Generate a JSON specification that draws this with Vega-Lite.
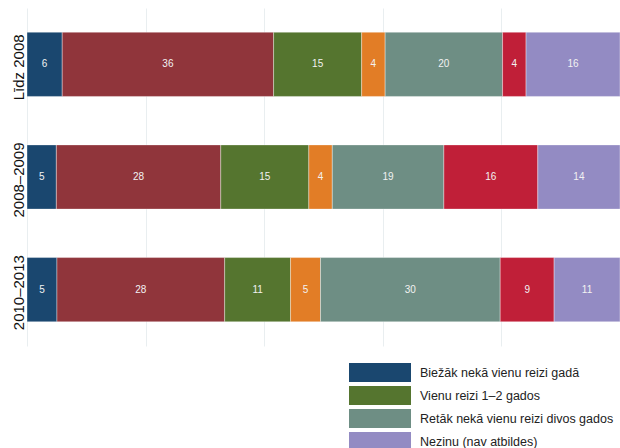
{
  "$schema": "https://vega.github.io/schema/vega-lite/v6.json",
  "width": 593,
  "height": 338,
  "autosize": {"type": "none"},
  "padding": {"left": 27, "top": 8, "right": 0, "bottom": 102},
  "background": "white",
  "config": {"view": {"stroke": null}, "font": "Liberation Sans"},
  "data": {
    "values": [
      {"period": "Līdz 2008", "cat": "Biežāk nekā vienu reizi gadā", "order": 1, "value": 6},
      {"period": "Līdz 2008", "cat": "Vienu reizi gadā", "order": 2, "value": 36},
      {"period": "Līdz 2008", "cat": "Vienu reizi 1–2 gados", "order": 3, "value": 15},
      {"period": "Līdz 2008", "cat": "Vienu reizi divos gados", "order": 4, "value": 4},
      {"period": "Līdz 2008", "cat": "Retāk nekā vienu reizi divos gados", "order": 5, "value": 20},
      {"period": "Līdz 2008", "cat": "Nekad", "order": 6, "value": 4},
      {"period": "Līdz 2008", "cat": "Nezinu (nav atbildes)", "order": 7, "value": 16},
      {"period": "2008–2009", "cat": "Biežāk nekā vienu reizi gadā", "order": 1, "value": 5},
      {"period": "2008–2009", "cat": "Vienu reizi gadā", "order": 2, "value": 28},
      {"period": "2008–2009", "cat": "Vienu reizi 1–2 gados", "order": 3, "value": 15},
      {"period": "2008–2009", "cat": "Vienu reizi divos gados", "order": 4, "value": 4},
      {"period": "2008–2009", "cat": "Retāk nekā vienu reizi divos gados", "order": 5, "value": 19},
      {"period": "2008–2009", "cat": "Nekad", "order": 6, "value": 16},
      {"period": "2008–2009", "cat": "Nezinu (nav atbildes)", "order": 7, "value": 14},
      {"period": "2010–2013", "cat": "Biežāk nekā vienu reizi gadā", "order": 1, "value": 5},
      {"period": "2010–2013", "cat": "Vienu reizi gadā", "order": 2, "value": 28},
      {"period": "2010–2013", "cat": "Vienu reizi 1–2 gados", "order": 3, "value": 11},
      {"period": "2010–2013", "cat": "Vienu reizi divos gados", "order": 4, "value": 5},
      {"period": "2010–2013", "cat": "Retāk nekā vienu reizi divos gados", "order": 5, "value": 30},
      {"period": "2010–2013", "cat": "Nekad", "order": 6, "value": 9},
      {"period": "2010–2013", "cat": "Nezinu (nav atbildes)", "order": 7, "value": 11}
    ]
  },
  "encoding": {
    "y": {
      "field": "period",
      "type": "nominal",
      "sort": ["Līdz 2008", "2008–2009", "2010–2013"],
      "scale": {"paddingInner": 0.43, "paddingOuter": 0.215},
      "axis": {
        "title": null,
        "domain": false,
        "ticks": false,
        "grid": false,
        "labelAngle": 270,
        "labelAlign": "center",
        "labelBaseline": "alphabetic",
        "labelPadding": 3.5,
        "labelOffset": 3,
        "labelFontSize": 15,
        "labelColor": "#111111"
      }
    }
  },
  "layer": [
    {
      "mark": {"type": "bar", "stroke": "white", "strokeWidth": 0.6, "strokeOpacity": 0.6},
      "encoding": {
        "x": {
          "field": "value",
          "type": "quantitative",
          "stack": "normalize",
          "scale": {"domain": [0, 1], "nice": false},
          "axis": {
            "title": null,
            "labels": false,
            "ticks": false,
            "domain": false,
            "grid": true,
            "gridColor": "#e9eef0",
            "gridWidth": 1,
            "values": [0, 0.2, 0.4, 0.6, 0.8, 1]
          }
        },
        "color": {
          "field": "cat",
          "type": "nominal",
          "scale": {
            "domain": ["Biežāk nekā vienu reizi gadā", "Vienu reizi gadā", "Vienu reizi 1–2 gados", "Vienu reizi divos gados", "Retāk nekā vienu reizi divos gados", "Nekad", "Nezinu (nav atbildes)"],
            "range": ["#1a476f", "#90353b", "#55752f", "#e27d26", "#6e8e84", "#c01f38", "#938bc3"]
          },
          "legend": {
            "orient": "none",
            "legendX": 322,
            "legendY": 355,
            "title": null,
            "values": ["Biežāk nekā vienu reizi gadā", "Vienu reizi 1–2 gados", "Retāk nekā vienu reizi divos gados", "Nezinu (nav atbildes)"],
            "symbolType": "M-1,-1H5.526V1H-1Z",
            "symbolSize": 361,
            "symbolStrokeWidth": 0,
            "symbolOpacity": 1,
            "labelFontSize": 12.5,
            "labelColor": "#222222",
            "labelOffset": 52,
            "labelLimit": 400,
            "rowPadding": 4,
            "padding": 0
          }
        },
        "order": {"field": "order", "type": "quantitative"}
      }
    },
    {
      "mark": {"type": "text", "color": "#f2f2f2", "fontSize": 10},
      "encoding": {
        "x": {"field": "value", "type": "quantitative", "stack": "normalize", "bandPosition": 0.5},
        "text": {"field": "value", "type": "quantitative"},
        "order": {"field": "order", "type": "quantitative"}
      }
    }
  ]
}
